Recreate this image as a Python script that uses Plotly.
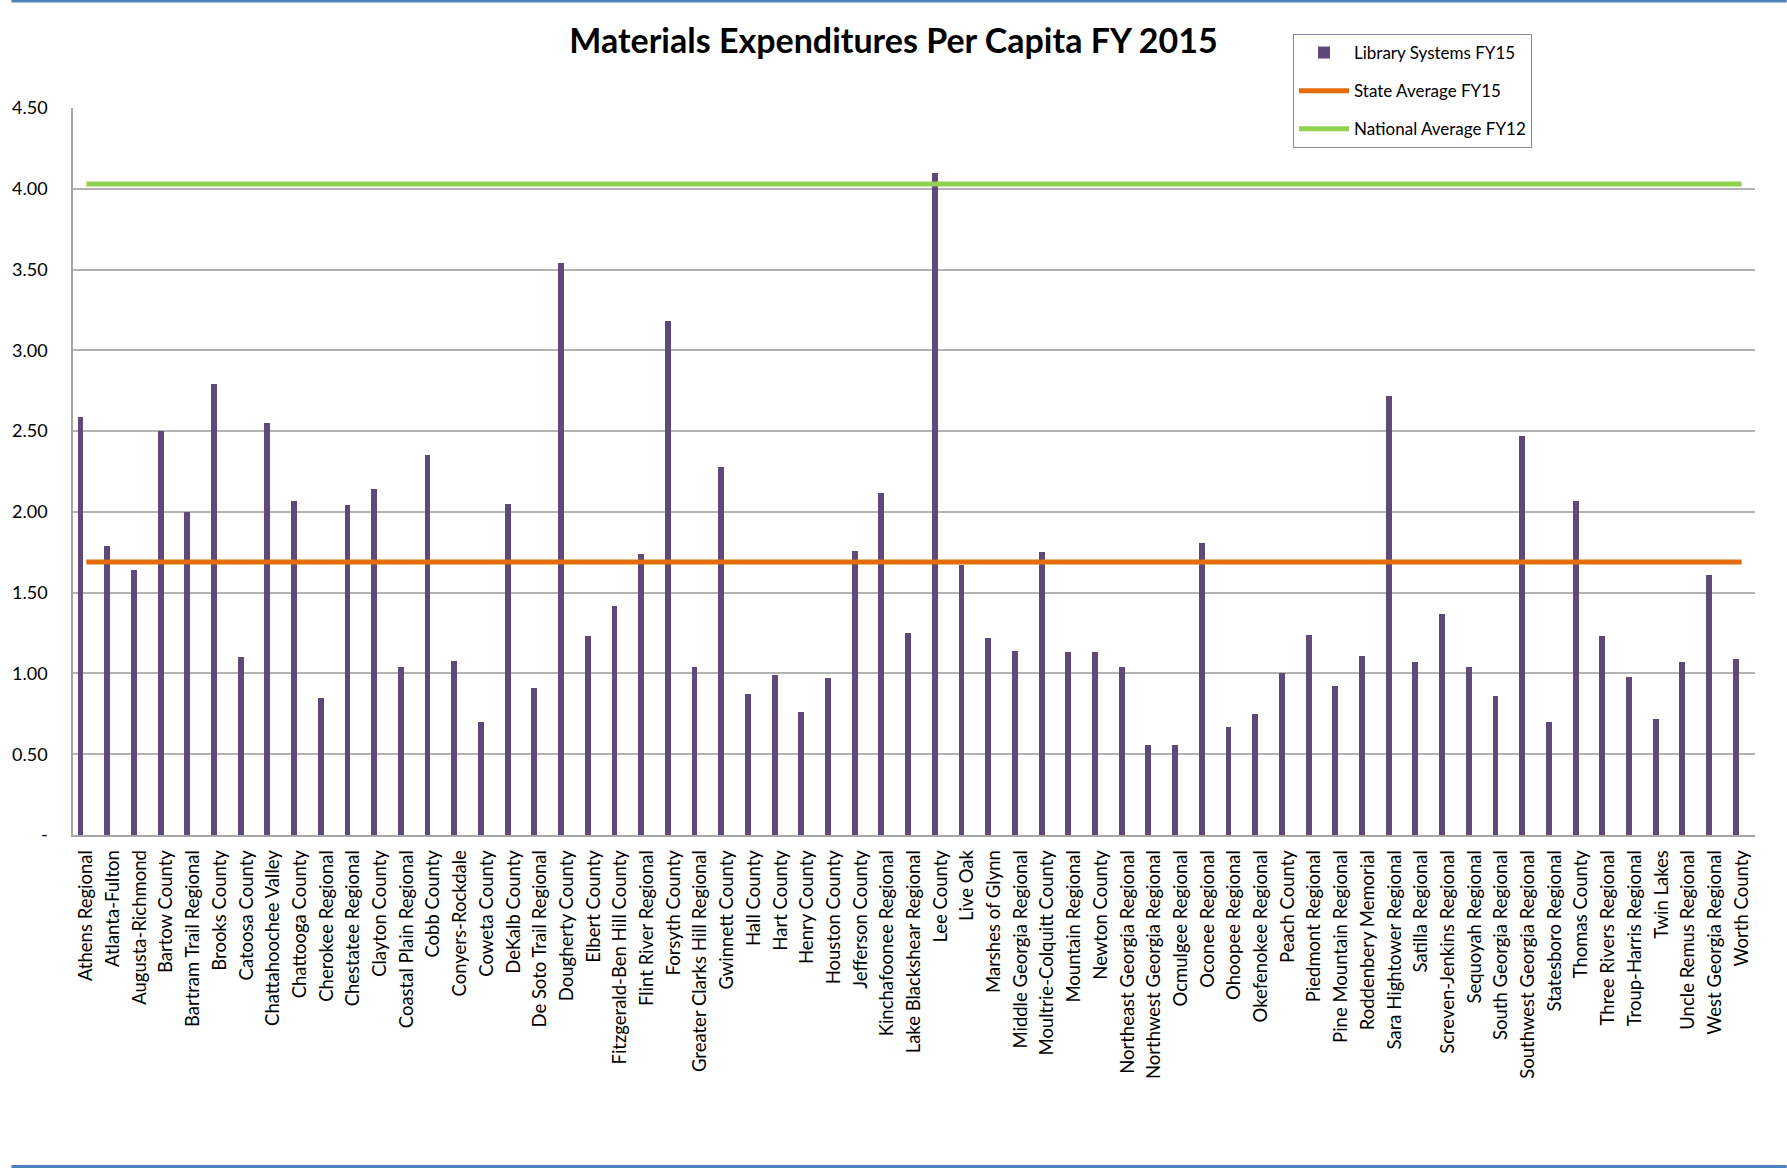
import plotly.graph_objects as go

categories = [
    "Athens Regional", "Atlanta-Fulton", "Augusta-Richmond", "Bartow County",
    "Bartram Trail Regional", "Brooks County", "Catoosa County", "Chattahoochee Valley",
    "Chattooga County", "Cherokee Regional", "Chestatee Regional", "Clayton County",
    "Coastal Plain Regional", "Cobb County", "Conyers-Rockdale", "Coweta County",
    "DeKalb County", "De Soto Trail Regional", "Dougherty County", "Elbert County",
    "Fitzgerald-Ben Hill County", "Flint River Regional", "Forsyth County",
    "Greater Clarks Hill Regional", "Gwinnett County", "Hall County", "Hart County",
    "Henry County", "Houston County", "Jefferson County", "Kinchafoonee Regional",
    "Lake Blackshear Regional", "Lee County", "Live Oak", "Marshes of Glynn",
    "Middle Georgia Regional", "Moultrie-Colquitt County", "Mountain Regional",
    "Newton County", "Northeast Georgia Regional", "Northwest Georgia Regional",
    "Ocmulgee Regional", "Oconee Regional", "Ohoopee Regional", "Okefenokee Regional",
    "Peach County", "Piedmont Regional", "Pine Mountain Regional", "Roddenbery Memorial",
    "Sara Hightower Regional", "Satilla Regional", "Screven-Jenkins Regional",
    "Sequoyah Regional", "South Georgia Regional", "Southwest Georgia Regional",
    "Statesboro Regional", "Thomas County", "Three Rivers Regional", "Troup-Harris Regional",
    "Twin Lakes", "Uncle Remus Regional", "West Georgia Regional", "Worth County",
]

library_systems_fy15 = [
    2.59, 1.79, 1.64, 2.50, 2.00, 2.79, 1.10, 2.55, 2.07, 0.85,
    2.04, 2.14, 1.04, 2.35, 1.08, 0.70, 2.05, 0.91, 3.54, 1.23,
    1.42, 1.74, 3.18, 1.04, 2.28, 0.87, 0.99, 0.76, 0.97, 1.76,
    2.12, 1.25, 4.10, 1.67, 1.22, 1.14, 1.75, 1.13, 1.13, 1.04,
    0.56, 0.56, 1.81, 0.67, 0.75, 1.00, 1.24, 0.92, 1.11, 2.72,
    1.07, 1.37, 1.04, 0.86, 2.47, 0.70, 2.07, 1.23, 0.98, 0.72,
    1.07, 1.61, 1.09,
]

state_average_fy15 = 1.69
national_average_fy12 = 4.03

y_tick_values = [0, 0.5, 1.0, 1.5, 2.0, 2.5, 3.0, 3.5, 4.0, 4.5]
y_tick_labels = ["-", "0.50", "1.00", "1.50", "2.00", "2.50", "3.00", "3.50", "4.00", "4.50"]

FONT = "Lato"
W, H = 1787, 1168
L, R, T, B = 62, 32, 108, 333
plot_h = H - T - B
plot_w = W - L - R

fig = go.Figure()
fig.add_trace(go.Bar(
    x=categories, y=library_systems_fy15, name="Library Systems FY15",
    marker=dict(color="#5F497A", line=dict(width=0)),
    width=0.22, offset=-0.33, legendgroup="a",
))
fig.add_trace(go.Scatter(
    x=categories, y=[state_average_fy15] * len(categories), name="State Average FY15",
    mode="lines", line=dict(color="#E46C0A", width=5), legendgroup="b",
))
fig.add_trace(go.Scatter(
    x=categories, y=[national_average_fy12] * len(categories), name="National Average FY12",
    mode="lines", line=dict(color="#92D050", width=5), legendgroup="c",
))

def py(px_from_top):
    return (H - B - px_from_top) / plot_h

fig.update_layout(
    width=W, height=H, autosize=False,
    margin=dict(l=L, r=R, t=T, b=B, pad=0),
    paper_bgcolor="white", plot_bgcolor="white",
    font=dict(family=FONT, color="#000000"),
    title=dict(text="<b>Materials Expenditures Per Capita FY 2015</b>",
               x=0.5, xanchor="center", y=1 - 41 / H, yanchor="middle",
               font=dict(family=FONT, size=34, color="#000000")),
    showlegend=True,
    legend=dict(x=(1290 - L) / plot_w, xanchor="left", y=py(34), yanchor="top",
                bgcolor="white", bordercolor="#8C84A4", borderwidth=1,
                font=dict(family=FONT, size=17, color="#000000"),
                tracegroupgap=13, traceorder="grouped", itemwidth=50),
    bargap=0,
    xaxis=dict(type="category", range=[-0.5, len(categories) - 0.5],
               tickangle=-90, tickfont=dict(family=FONT, size=18.5, color="#000000"),
               showgrid=False, showline=True, linecolor="#A6A6A6", linewidth=1.5,
               ticks="", ticklabelstandoff=6, fixedrange=True),
    yaxis=dict(range=[0, 4.5], tickvals=y_tick_values, ticktext=y_tick_labels,
               tickfont=dict(family=FONT, size=18, color="#000000"),
               showgrid=True, gridcolor="#B3B3B3", gridwidth=1.5,
               showline=True, linecolor="#A6A6A6", linewidth=1.5,
               zeroline=False, ticks="", ticklabelstandoff=20, fixedrange=True),
    shapes=[
        dict(type="line", xref="paper", yref="paper", x0=-L / plot_w, x1=(W - L) / plot_w,
             y0=py(1), y1=py(1), line=dict(color="#4F81BD", width=3)),
        dict(type="line", xref="paper", yref="paper", x0=-L / plot_w, x1=(W - L) / plot_w,
             y0=py(H - 1.5), y1=py(H - 1.5), line=dict(color="#4F81BD", width=3)),
    ],
)

fig.write_html("out.html", config={"displayModeBar": False},
               post_script="document.body.style.margin='0';document.body.style.overflow='hidden';")
